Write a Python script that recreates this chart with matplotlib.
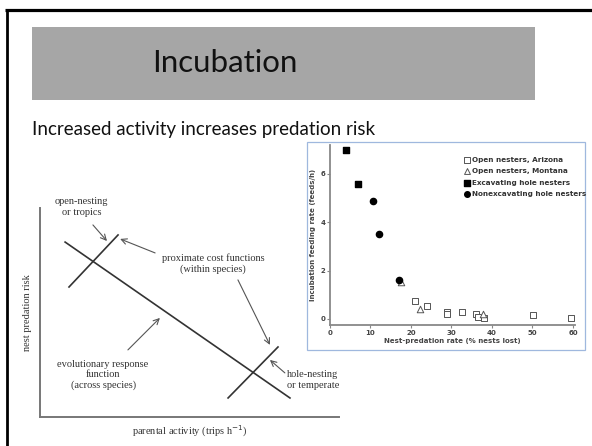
import matplotlib
matplotlib.use("Agg")
import matplotlib.pyplot as plt
from matplotlib.patches import Rectangle

# --- scatter data ---
arizona_x = [21.0, 23.9, 28.8, 29.0, 32.6, 36.0, 36.5, 38.1, 50.2, 59.4]
arizona_y = [0.75, 0.55, 0.27, 0.22, 0.30, 0.22, 0.08, 0.02, 0.15, 0.06]
montana_x = [17.5, 22.2, 37.9]
montana_y = [1.55, 0.42, 0.20]
excavating_x = [4.0, 6.8]
excavating_y = [7.0, 5.6]
nonexcavating_x = [10.7, 12.0, 17.0]
nonexcavating_y = [4.9, 3.5, 1.6]
x_ticks = [0, 10, 20, 30, 40, 50, 60]
y_ticks = [0, 2, 4, 6]

# --- schematic diagram (0-10 units on both axes) ---
response_line = ([0.84, 8.36], [8.37, 0.91])
open_cost_line = ([0.97, 2.61], [6.22, 8.71])
hole_cost_line = ([6.29, 7.96], [0.91, 3.35])
# (text, x, y, ha)
schematic_notes = [
    ("open-nesting\nor tropics", 1.40, 10.05, "center"),
    ("proximate cost functions\n(within species)", 5.79, 7.32, "center"),
    ("evolutionary response\nfunction\n(across species)", 2.11, 2.01, "center"),
    ("hole-nesting\nor temperate", 8.26, 1.77, "left"),
]
# (tail x, tail y, head x, head y)
schematic_arrows = [
    (1.77, 9.19, 2.24, 8.42),
    (3.85, 7.85, 2.68, 8.52),
    (6.62, 6.56, 7.69, 3.45),
    (2.94, 3.21, 4.01, 4.74),
    (8.19, 2.11, 7.69, 2.73),
]

W, H = 592, 446
fig = plt.figure(figsize=(W / 100, H / 100), dpi=100)
fig.patch.set_facecolor("white")

# slide decoration in pixel units
deco = fig.add_axes([0, 0, 1, 1], zorder=0)
deco.set_xlim(0, W)
deco.set_ylim(H, 0)
deco.axis("off")
deco.plot([5, W], [9.5, 9.5], color="black", lw=2.3, solid_capstyle="butt")
deco.plot([7, 7], [8.5, H], color="black", lw=2.0, solid_capstyle="butt")
deco.add_patch(Rectangle((32, 27), 503, 73, facecolor="#a6a6a6", edgecolor="none"))
deco.text(225, 63, "Incubation", fontsize=22.5, family="Lato", ha="center", va="center", color="#111111")
deco.text(32, 130, "Increased activity increases predation risk", fontsize=13.5,
          family="Lato", ha="left", va="center", color="#111111")
deco.add_patch(Rectangle((307, 142), 278, 208, facecolor="none", edgecolor="#9fb8de", lw=0.9))

# schematic diagram
sch = fig.add_axes([40 / W, 1 - 417 / H, 299 / W, 209 / H], zorder=1)
sch.set_facecolor("none")
sch.set_xlim(0, 10)
sch.set_ylim(0, 10)
for side in ["top", "right"]:
    sch.spines[side].set_visible(False)
for side in ["left", "bottom"]:
    sch.spines[side].set_color("#777777")
    sch.spines[side].set_linewidth(1.4)
sch.set_xticks([])
sch.set_yticks([])
for xs, ys in [response_line, open_cost_line, hole_cost_line]:
    sch.plot(xs, ys, color="#333333", lw=1.2)
serif = "Liberation Serif"
for txt, x, y, ha in schematic_notes:
    sch.text(x, y, txt, fontsize=7.5, family=serif, ha=ha, va="center",
             color="#333333", linespacing=1.2, clip_on=False)
for x0, y0, x1, y1 in schematic_arrows:
    sch.annotate("", xy=(x1, y1), xytext=(x0, y0),
                 arrowprops=dict(arrowstyle="->", color="#555555", lw=0.8,
                                 shrinkA=0, shrinkB=0), annotation_clip=False)
sch.set_ylabel("nest predation risk", fontsize=7.5, family=serif, color="#333333", labelpad=6)
sch.set_xlabel("parental activity (trips h$^{-1}$)", fontsize=7.5, family=serif,
               color="#333333", labelpad=5)

# scatter inset
ax = fig.add_axes([330 / W, 1 - 325 / H, 245 / W, 180 / H], zorder=2)
ax.set_facecolor("none")
ax.scatter(arizona_x, arizona_y, marker="s", s=22, facecolors="white", edgecolors="#555555",
           linewidths=0.7, label="Open nesters, Arizona", zorder=3)
ax.scatter(montana_x, montana_y, marker="^", s=22, facecolors="white", edgecolors="#555555",
           linewidths=0.7, label="Open nesters, Montana", zorder=3)
ax.scatter(excavating_x, excavating_y, marker="s", s=20, color="black",
           label="Excavating hole nesters", zorder=4)
ax.scatter(nonexcavating_x, nonexcavating_y, marker="o", s=20, color="black",
           label="Nonexcavating hole nesters", zorder=4)
ax.set_xlim(0, 60.5)
ax.set_ylim(-0.25, 7.2)
ax.set_xticks(x_ticks)
ax.set_yticks(y_ticks)
for side in ["top", "right"]:
    ax.spines[side].set_visible(False)
for side in ["left", "bottom"]:
    ax.spines[side].set_color("#888888")
    ax.spines[side].set_linewidth(1.3)
ax.tick_params(length=2, width=0.8, color="#888888", labelsize=5, labelcolor="#444444", pad=1.5)
for lab in ax.get_xticklabels() + ax.get_yticklabels():
    lab.set_fontweight("bold")
ax.set_xlabel("Nest-predation rate (% nests lost)", fontsize=5, fontweight="bold",
              color="#444444", labelpad=1.5)
ax.set_ylabel("Incubation feeding rate (feeds/h)", fontsize=5, fontweight="bold",
              color="#444444", labelpad=3)
leg = ax.legend(loc="upper left", bbox_to_anchor=(461 / W, 1 - 153 / H),
                bbox_transform=fig.transFigure, frameon=False, fontsize=5.2,
                handlelength=0.7, handletextpad=0.3, labelspacing=0.75, borderpad=0,
                markerscale=0.9)
for t in leg.get_texts():
    t.set_fontweight("bold")
    t.set_color("#333333")

fig.savefig("out.png", dpi=100)
